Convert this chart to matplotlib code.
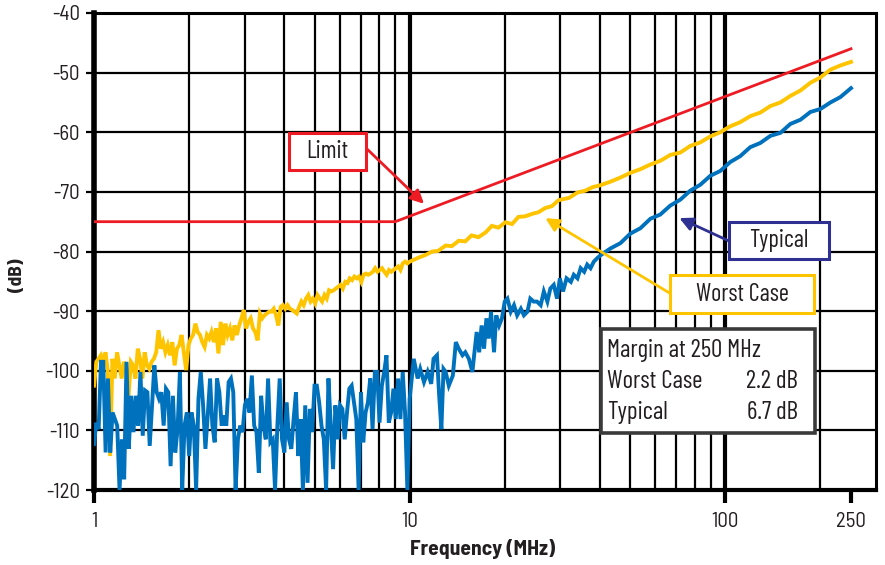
import numpy as np
import matplotlib
matplotlib.use("Agg")
import matplotlib.pyplot as plt
from matplotlib.patches import Rectangle

plt.rcParams['font.family'] = ['Barlow Semi Condensed', 'DejaVu Sans']
plt.rcParams['axes.unicode_minus'] = False
BOXFONT = ['Barlow Condensed', 'DejaVu Sans']

# Limit line (corner points)
limit_f = [1, 9, 250]
limit_db = [-75, -75, -46]

# Worst case, 1-10 MHz sweep (noisy part)
worst_lo_db = [-102.5, -98.5, -98.0, -97.4, -98.5, -96.9, -100.2, -114.3, -98.0, -101.3,
               -96.9, -99.1, -101.3, -98.5, -99.7, -104.2, -98.5, -99.1, -101.3, -96.3,
               -98.0, -101.3, -96.9, -99.1, -99.7, -98.5, -98.0, -96.9, -93.2, -96.3,
               -95.2, -96.9, -95.7, -97.4, -95.2, -99.1, -96.3, -95.7, -94.0, -96.9,
               -99.9, -95.7, -94.6, -94.0, -92.1, -93.5, -94.0, -95.2, -96.0, -94.0,
               -94.6, -93.5, -95.2, -92.9, -97.1, -91.8, -95.7, -92.1, -94.0, -92.9,
               -94.9, -92.4, -94.0, -92.4, -91.2, -89.8, -92.9, -91.8, -91.2, -92.9,
               -93.5, -94.9, -90.4, -91.2, -90.7, -90.4, -90.1, -90.1, -89.6, -90.7,
               -92.4, -89.3, -89.0, -89.6, -89.0, -89.6, -89.8, -90.1, -90.4, -89.3,
               -88.4, -89.0, -87.9, -87.3, -88.4, -87.9, -88.7, -87.3, -87.9, -88.4,
               -87.3, -87.9, -86.5, -86.7, -86.5, -86.2, -85.9, -85.6, -86.2, -85.1,
               -85.3, -84.5, -84.8, -84.2, -84.5, -84.2, -85.1, -83.9, -83.7, -83.9,
               -83.7, -83.4, -82.8, -83.4, -83.1, -82.8, -83.4, -83.9, -83.1, -83.4,
               -83.1, -82.8, -82.5, -83.1, -82.0, -81.7, -82.0, -81.7]

# Worst case, 10-250 MHz
worst_hi_f = [10.7, 11.2, 11.8, 12.3, 13.0, 13.6, 14.3, 15.0, 15.7, 16.5,
              17.4, 18.2, 19.1, 20.1, 21.1, 22.1, 23.2, 24.4, 25.6, 26.9,
              28.2, 29.6, 32, 34, 36, 38, 40.1, 43.2, 46.5, 50.0,
              53.8, 57.9, 62.2, 66.9, 72.0, 77.4, 83.3, 89.6, 96.3, 103.6,
              111.5, 119.9, 129.0, 138.9, 149.4, 160.7, 172.9, 185.9, 200, 215.2,
              231.4, 250]
worst_hi_db = [-81.0, -80.6, -80.0, -79.9, -79.0, -79.1, -78.2, -78.3, -77.3, -77.6,
               -76.8, -75.7, -76.0, -75.1, -75.4, -74.2, -74.1, -73.7, -73.4, -72.7,
               -72.4, -71.4, -71.0, -70.1, -69.8, -69.2, -68.9, -68.3, -67.6, -66.8,
               -66.2, -65.4, -64.8, -63.8, -63.4, -62.3, -61.7, -60.7, -60.0, -59.0,
               -58.3, -57.3, -56.7, -55.6, -55.0, -53.9, -53.0, -51.7, -50.8, -49.5,
               -48.8, -48.2]

# Typical, 1-10 MHz sweep (noisy part)
typ_lo_db = [-112.3, -108.7, -109.8, -98.5, -98.5, -113.7, -101.3, -113.7, -107.0, -108.1,
             -109.2, -120.0, -111.5, -118.2, -98.5, -113.1, -104.2, -110.3, -104.2, -109.2,
             -100.2, -110.9, -103.3, -103.6, -112.6, -105.8, -99.1, -103.6, -104.7, -103.6,
             -109.2, -103.0, -103.6, -116.0, -104.2, -113.7, -109.8, -100.2, -120.0, -109.2,
             -107.0, -114.3, -107.0, -109.2, -120.0, -104.7, -100.2, -105.8, -113.1, -107.5,
             -101.3, -109.2, -112.0, -101.3, -103.6, -109.2, -107.5, -109.2, -101.9, -101.3,
             -103.6, -120.0, -111.5, -109.2, -110.3, -105.8, -104.7, -107.0, -100.8, -109.2,
             -110.3, -117.1, -104.2, -109.2, -111.5, -101.3, -112.0, -111.5, -120.0, -109.2,
             -101.3, -111.5, -113.7, -105.3, -111.5, -113.1, -108.1, -103.6, -114.3, -108.1,
             -120.0, -105.8, -118.8, -106.4, -110.3, -102.5, -102.5, -105.3, -109.2, -111.5,
             -120.0, -101.3, -109.2, -116.5, -105.8, -111.5, -105.8, -106.4, -111.5, -107.0,
             -103.0, -102.5, -105.3, -108.1, -120.0, -103.6, -112.0, -107.0, -105.3, -101.3,
             -109.8, -100.2, -100.2, -108.7, -102.5, -100.2, -97.4, -108.7, -107.0, -103.0,
             -108.1, -101.3, -108.1, -100.2, -107.0, -120.0, -104.7]

# Typical, 10-250 MHz
typ_hi_f = [10.3, 10.6, 10.8, 11.1, 11.4, 11.7, 11.9, 12.2, 12.4, 12.6,
            12.8, 13.0, 13.3, 13.7, 14.0, 14.3, 14.7, 15.0, 15.4, 15.8,
            16.0, 16.3, 16.6, 16.9, 17.2, 17.5, 17.8, 18.1, 18.5, 18.8,
            19.2, 19.6, 20.0, 20.4, 20.9, 21.4, 21.9, 22.5, 23.0, 23.6,
            24.1, 24.7, 25.3, 26.0, 26.6, 27.3, 27.9, 28.6, 29.3, 29.9,
            30.6, 31.4, 32.4, 33.1, 34.0, 34.8, 35.7, 36.5, 37.4, 38.3,
            39.3, 40.3, 43.2, 46.5, 50.0, 53.8, 57.9, 62.2, 66.9, 72.0,
            77.4, 83.3, 89.6, 96.3, 103.6, 111.5, 119.9, 129.0, 138.9, 149.4,
            160.7, 172.9, 185.9, 200, 215.2, 231.4, 250]
typ_hi_db = [-98.0, -101.3, -99.7, -101.9, -100.2, -102.2, -98.0, -97.4, -104.2, -109.8,
             -99.7, -100.2, -102.5, -100.8, -95.2, -96.3, -97.4, -96.9, -98.0, -100.2,
             -97.4, -93.5, -96.9, -92.4, -96.3, -91.2, -94.6, -90.1, -96.9, -90.7,
             -92.4, -91.2, -88.4, -87.9, -90.1, -89.0, -90.7, -89.6, -90.7, -90.1,
             -87.9, -88.4, -88.4, -89.0, -86.7, -88.4, -86.2, -85.6, -87.9, -84.5,
             -86.7, -84.5, -85.1, -83.9, -84.5, -82.8, -83.4, -82.2, -82.8, -81.7,
             -81.1, -80.6, -79.5, -78.6, -77.0, -76.1, -74.5, -73.8, -72.3, -71.3,
             -69.8, -68.8, -67.3, -66.5, -65.0, -64.0, -62.5, -61.8, -60.6, -60.1,
             -58.6, -57.9, -56.6, -56.1, -55.0, -54.1, -52.6]

RED = '#ed1c24'
YELLOW = '#ffc400'
BLUE = '#0071bc'
NAVY = '#2e3192'
TXT = '#231f20'

fig = plt.figure(figsize=(8.85, 5.65), dpi=100)
ax = fig.add_axes([94 / 885, 1 - 490 / 565, 782 / 885, 477 / 565])

# vertical grid
for g in [2, 3, 4, 5, 6, 7, 8, 9, 20, 30, 40, 50, 60, 70, 80, 90, 200]:
    ax.axvline(g, color='black', lw=1.6, zorder=1)
for g in [10, 100]:
    ax.axvline(g, color='black', lw=3.0, zorder=1)
ax.yaxis.grid(True, color='black', lw=1.6, zorder=1)
ax.set_axisbelow(True)

worst_lo_f = np.geomspace(1, 10, len(worst_lo_db))
typ_lo_f = np.geomspace(1, 10, len(typ_lo_db))

ax.plot(limit_f, limit_db, color=RED, lw=2.0, zorder=3)
ax.plot(np.concatenate([worst_lo_f, worst_hi_f]), worst_lo_db + worst_hi_db,
        color=YELLOW, lw=2.8, zorder=3, solid_joinstyle='miter')
ax.plot(np.concatenate([typ_lo_f, typ_hi_f]), typ_lo_db + typ_hi_db,
        color=BLUE, lw=2.8, zorder=4, solid_joinstyle='miter')

ax.set_xscale('log')
ax.set_xlim(1, 300)
ax.set_ylim(-120, -40)
ax.set_yticks(range(-120, -39, 10))
ax.set_xticks([1, 10, 100, 250])
ax.set_xticklabels(['1', '10', '100', '250'])
ax.xaxis.set_minor_locator(matplotlib.ticker.NullLocator())
ax.tick_params(axis='x', length=9, width=3, pad=7, labelsize=15, colors='black',
               labelcolor=TXT)
ax.tick_params(axis='y', length=6, width=1.6, pad=4, labelsize=15, labelcolor=TXT)

ax.spines['left'].set_linewidth(4)
ax.spines['bottom'].set_linewidth(3)
ax.spines['top'].set_linewidth(2.2)
ax.spines['right'].set_linewidth(2.2)

fig.text(18 / 885, 1 - 275 / 565, '(dB)', rotation=90, ha='center', va='center',
         fontsize=14, fontweight='bold', color=TXT)
fig.text(483 / 885, 1 - 549 / 565, 'Frequency (MHz)', ha='center', va='center',
         fontsize=15.5, fontweight='bold', color=TXT)

# callout boxes
boxes = [
    (0.2494, 0.6709, 0.0984, 0.0775, RED, 'Limit'),
    (0.8120, 0.4843, 0.1279, 0.0775, NAVY, 'Typical'),
    (0.7366, 0.3711, 0.1841, 0.0796, YELLOW, 'Worst Case'),
]
for x0, y0, w, h, c, label in boxes:
    ax.add_patch(Rectangle((x0, y0), w, h, transform=ax.transAxes, facecolor='white',
                           edgecolor=c, lw=2.2, zorder=6))
    ax.text(x0 + w / 2, y0 + h / 2, label, transform=ax.transAxes, ha='center',
            va='center', fontsize=17.5, color=TXT, zorder=7, family=BOXFONT)

ax.add_patch(Rectangle((0.6483, 0.1195), 0.2737, 0.2180, transform=ax.transAxes,
                       facecolor='white', edgecolor='#3a3a3a', lw=2.6, zorder=6))
margin_rows = [(0.2935, 'Margin at 250 MHz', ''),
               (0.2285, 'Worst Case', '2.2 dB'),
               (0.1635, 'Typical', '6.7 dB')]
for yy, left, right in margin_rows:
    ax.text(0.656, yy, left, transform=ax.transAxes, va='center', fontsize=18,
            color=TXT, zorder=7, family=BOXFONT)
    ax.text(0.9003, yy, right, transform=ax.transAxes, va='center', ha='right',
            fontsize=18, color=TXT, zorder=7, family=BOXFONT)

# arrows
arrows = [
    ((11.1, -72.0), (0.3478, 0.717), RED),
    ((71.5, -74.4), (0.8120, 0.522), NAVY),
    ((26.9, -74.4), (0.7366, 0.4123), YELLOW),
]
for tip, start, c in arrows:
    ax.annotate('', xy=tip, xycoords='data', xytext=start, textcoords='axes fraction',
                arrowprops=dict(arrowstyle='-|>', color=c, lw=2.0, mutation_scale=20,
                                shrinkA=0, shrinkB=0), zorder=5)

fig.savefig('out.png', dpi=100)
